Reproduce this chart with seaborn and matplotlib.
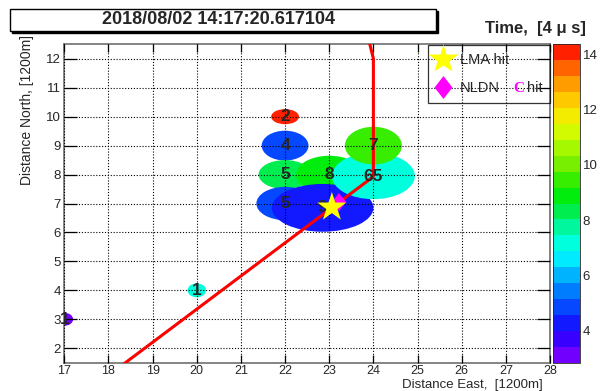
# Lightning hit map: cluster blobs coloured by time, LMA / NLDN markers and track

import matplotlib
matplotlib.use('Agg')
import matplotlib.pyplot as plt
import seaborn as sns
from matplotlib.colors import LinearSegmentedColormap, ListedColormap, Normalize
from matplotlib.patches import Ellipse, Rectangle
from matplotlib.lines import Line2D
from matplotlib.cm import ScalarMappable

sns.set_style('ticks')
plt.rcParams['font.family'] = ['Liberation Sans', 'DejaVu Sans']

# clusters (drawing order matters, later ones on top)
hit_x = [17.0, 20.0, 22.0, 22.0, 22.0, 23.0, 22.0, 22.85, 24.0, 24.0]
hit_y = [3.0, 4.0, 10.0, 9.0, 8.0, 8.0, 7.0, 6.85, 7.95, 9.0]
hit_w = [0.4, 0.42, 0.63, 1.06, 1.2, 1.5, 1.3, 2.3, 1.88, 1.29]
hit_h = [0.45, 0.48, 0.52, 1.03, 1.0, 1.3, 1.15, 1.65, 1.6, 1.3]
hit_t = [3.0, 7.3, 14.3, 4.9, 8.2, 8.7, 4.6, 4.0, 7.3, 9.3]
hit_n = ['1', '1', '2', '4', '5', '8', '5', '9', '65', '7']

# fitted track
track_x = [18.0, 24.0, 24.0, 23.84]
track_y = [1.06, 7.93, 12.0, 13.0]

# single hits
lma_x, lma_y = [23.06], [6.87]
nldn_x, nldn_y = [23.22], [7.05]

t_min, t_max = 2.84, 14.36
cbar_ticks = [4, 6, 8, 10, 12, 14]

# ROOT-like rainbow palette, 20 contours
anchors = [(0.0, (0.55, 0.0, 1.0)), (0.10, (0.1, 0.0, 1.0)), (0.19, (0.0, 0.35, 1.0)),
           (0.274, (0.0, 0.7, 1.0)), (0.344, (0.0, 1.0, 1.0)), (0.405, (0.0, 1.0, 0.75)),
           (0.448, (0.0, 0.93, 0.45)), (0.535, (0.0, 0.93, 0.0)), (0.622, (0.45, 0.93, 0.0)),
           (0.708, (0.78, 1.0, 0.0)), (0.795, (1.0, 0.9, 0.0)), (0.882, (1.0, 0.6, 0.0)),
           (0.934, (1.0, 0.35, 0.0)), (1.0, (1.0, 0.0, 0.0))]
base = LinearSegmentedColormap.from_list('root_rainbow', anchors)
cmap = ListedColormap([base((i + 0.5) / 20) for i in range(20)])
norm = Normalize(t_min, t_max)

fig = plt.figure(figsize=(6, 3.91), dpi=100)
ax = fig.add_axes([64.3 / 600, 1 - 362.7 / 391, 485.7 / 600, 318.4 / 391])
cax = fig.add_axes([553 / 600, 1 - 362.7 / 391, 27 / 600, 318.4 / 391])

for x, y, w, h, t in zip(hit_x, hit_y, hit_w, hit_h, hit_t):
    ax.add_patch(Ellipse((x, y), w, h, facecolor=cmap(norm(t)), edgecolor='none', zorder=1))

sns.lineplot(x=track_x, y=track_y, sort=False, estimator=None, color='red', lw=2.2, ax=ax, zorder=3)

for x, y, n in zip(hit_x, hit_y, hit_n):
    ax.text(x, y, n, ha='center', va='center', fontsize=12.5, fontweight='bold', zorder=4)

diamond = [(-0.78, 0), (0, 1), (0.78, 0), (0, -1)]
sns.scatterplot(x=nldn_x, y=nldn_y, marker=diamond, s=13 ** 2, color='#ff00ff', edgecolor='none',
                ax=ax, zorder=5)
sns.scatterplot(x=lma_x, y=lma_y, marker='*', s=22 ** 2, color='#ffff00', edgecolor='none',
                ax=ax, zorder=6)

ax.set_xlim(17, 28)
ax.set_ylim(1.5, 12.5)
ax.set_xticks(range(17, 29))
ax.set_yticks(range(2, 13))
ax.set_axisbelow(False)
ax.grid(True, color='black', ls=(0, (1, 1.6)), lw=0.8)
ax.tick_params(direction='in', top=True, right=True, labelsize=9.5, width=0.9, color='black')
ax.tick_params(axis='x', length=5.8, pad=1.5, labelsize=9)
ax.tick_params(axis='y', length=9.4, pad=2.5)
for s in ax.spines.values():
    s.set_color('#707070')
    s.set_linewidth(1.2)

ax.set_xlabel('Distance East,  [1200m]', fontsize=9.5, ha='right')
ax.xaxis.set_label_coords(0.985, -0.05)
ax.set_ylabel('Distance North, [1200m]', fontsize=10, ha='right')
ax.yaxis.set_label_coords(-0.062, 1.03)

cb = fig.colorbar(ScalarMappable(norm=norm, cmap=cmap), cax=cax, ticks=cbar_ticks)
cb.outline.set_linewidth(0.6)
cax.tick_params(direction='in', length=10.8, width=0.9, color='black', labelsize=9.5, pad=2)

handles = [Line2D([], [], marker='*', ls='none', ms=22, mfc='#ffff00', mec='none'),
           Line2D([], [], marker=diamond, ls='none', ms=16.5, mfc='#ff00ff', mec='none')]
leg = ax.legend(handles, ['LMA hit', 'NLDN'], loc='upper left', bbox_to_anchor=(0.749, 0.997, 0.251, 0),
                mode='expand', borderaxespad=0, fancybox=False, edgecolor='black', facecolor='none',
                fontsize=10.5, handlelength=1.0, handletextpad=0.65, borderpad=0.55,
                labelspacing=0.95)
leg.get_frame().set_linewidth(0.9)

# magenta "C" in the NLDN entry
fig.canvas.draw()
r = fig.canvas.get_renderer()
bb = leg.get_texts()[1].get_window_extent(r).transformed(fig.transFigure.inverted())
yc = (bb.y0 + bb.y1) / 2
c_txt = fig.text(bb.x1 + 13 / 600, yc, 'C', color='#ff00ff', fontsize=11, fontweight='bold',
                 family='Liberation Serif', va='center', ha='left', zorder=10)
cb_ = c_txt.get_window_extent(r).transformed(fig.transFigure.inverted())
fig.text(cb_.x1 + 3 / 600, yc, 'hit', fontsize=10.5, va='center', ha='left', zorder=10)

# title pave with shadow
fig.patches.append(Rectangle((12 / 600, 1 - 33 / 391), 426 / 600, 22 / 391, transform=fig.transFigure,
                             facecolor='black', edgecolor='black', zorder=0))
fig.patches.append(Rectangle((10 / 600, 1 - 31 / 391), 426 / 600, 22 / 391, transform=fig.transFigure,
                             facecolor='white', edgecolor='black', lw=1, zorder=1))
fig.text(218 / 600, 1 - 20 / 391, '2018/08/02 14:17:20.617104', ha='center', va='center',
         fontsize=13, fontweight='bold')
fig.text(586 / 600, 1 - 33 / 391, 'Time,  [4 \u03bc s]', ha='right', va='baseline',
         fontsize=12, fontweight='bold')

fig.savefig('out.png', dpi=100)
